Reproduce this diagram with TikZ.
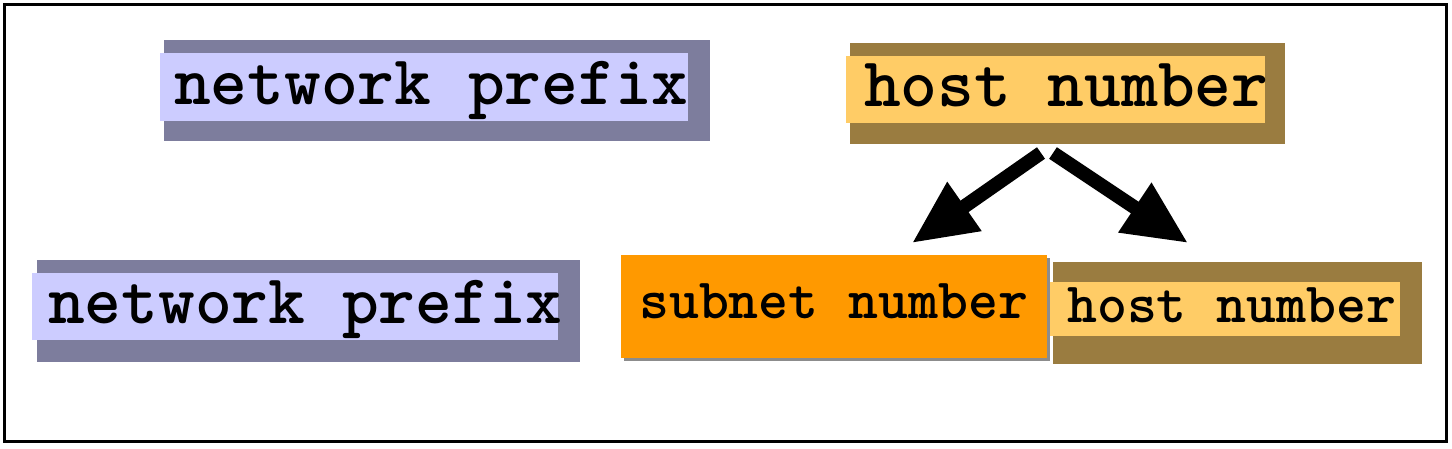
\documentclass[tikz,border=0pt]{standalone}
\usepackage{fontspec}
\usetikzlibrary{arrows.meta}
\definecolor{lav}{RGB}{204,204,255}
\definecolor{lavdark}{RGB}{125,125,157}
\definecolor{gold}{RGB}{255,204,102}
\definecolor{golddark}{RGB}{154,124,64}
\definecolor{orng}{RGB}{255,153,0}
\tikzset{
  lbl/.style={inner sep=0pt, anchor=base west, font=\ttfamily\bfseries\fontsize{70}{70}\selectfont},
  lblsmall/.style={inner sep=0pt, anchor=base west, font=\ttfamily\bfseries\fontsize{57}{57}\selectfont},
  bigarrow/.style={line width=14pt, -{Triangle[length=64pt,width=56pt]}},
}
\begin{document}
\begin{tikzpicture}[x=1pt,y=-1pt]
\useasboundingbox (0,0) rectangle (1452,448);
\draw[line width=3pt] (4.5,4.5) rectangle (1446.5,441.5);
% top-left network prefix
\fill[lavdark] (164,40) rectangle (710,141);
\fill[lav] (160,53) rectangle (688,121);
\node[lbl] (np1) at (174,104) {network prefix};
% top-right host number
\fill[golddark] (850,43) rectangle (1285,144);
\fill[gold] (846,56) rectangle (1265,123);
\node[lbl] (hn1) at (864,106) {host number};
% bottom-left network prefix
\fill[lavdark] (37,260) rectangle (580,362);
\fill[lav] (32,273) rectangle (558,340);
\node[lbl] (np2) at (48,323) {network prefix};
% subnet number
\fill[black!45] (624,258) rectangle (1050,361);
\fill[orng] (621,255) rectangle (1047,358);
\node[lblsmall] (sn) at (639,318) {subnet number};
% bottom-right host number
\fill[golddark] (1053,262) rectangle (1422,364);
\fill[gold] (1050,282) rectangle (1400,336);
\node[lblsmall] (hn2) at (1067,322) {host number};
% arrows
\coordinate (s1) at (1041,153);
\coordinate (t1) at (912,243);
\coordinate (s2) at (1053,153);
\coordinate (t2) at (1188,243);
\draw[bigarrow] (s1) -- (t1);
\draw[bigarrow] (s2) -- (t2);
\end{tikzpicture}
\end{document}
